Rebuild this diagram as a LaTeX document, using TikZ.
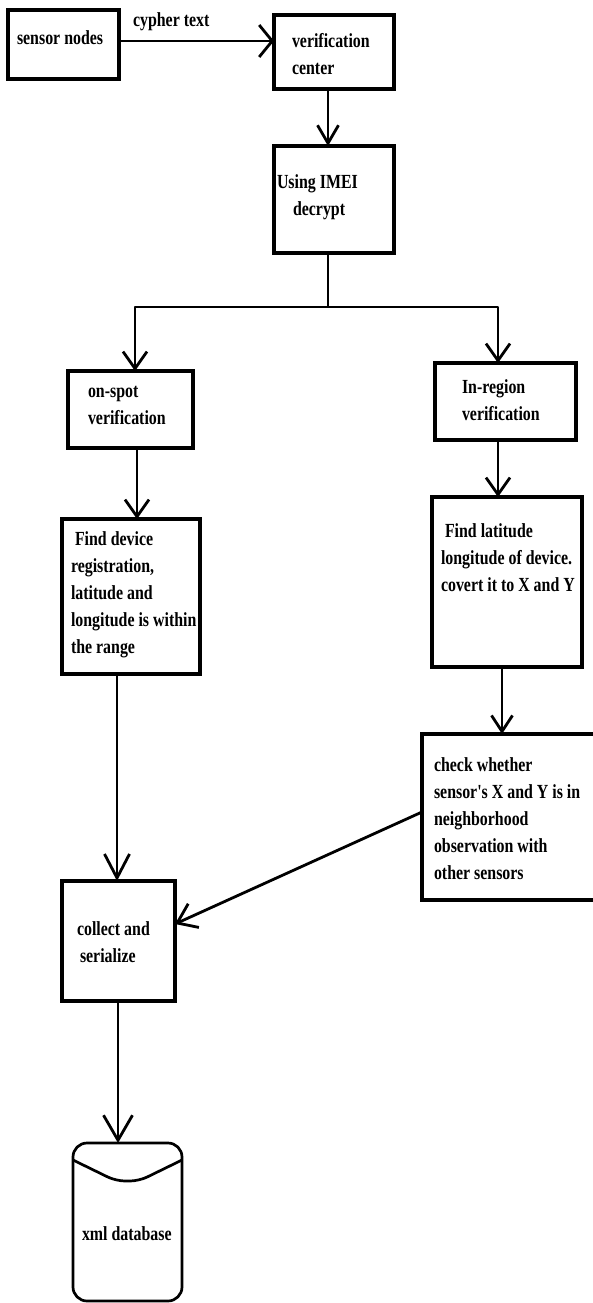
\documentclass[tikz,border=0pt]{standalone}
\usepackage{fontspec}
\newfontfamily\diagfont{Liberation Serif}[FakeStretch=0.795]
\usetikzlibrary{arrows.meta}
\newcommand{\boxlines}[1]{\parbox[t]{220pt}{\raggedright #1}}
\begin{document}
\begin{tikzpicture}[x=1pt,y=-1pt,
  box/.style={draw, line width=3.2pt, inner sep=0pt, outer sep=0pt},
  txt/.style={anchor=base west, inner sep=0pt, outer sep=0pt,
    font=\diagfont\bfseries\fontsize{20}{27}\selectfont},
  conn/.style={line width=2.8pt, line join=round},
  arr/.style={conn, -{Straight Barb[length=17pt,width=24pt]}},
  dbline/.style={line width=2.7pt}]
\useasboundingbox (0,0) rectangle (592,1303);

% boxes
\node[box, minimum width=111pt, minimum height=69pt] (sensor) at (63.5,44.5) {};
\node[box, minimum width=120pt, minimum height=74pt] (vc) at (334,52) {};
\node[box, minimum width=120pt, minimum height=107pt] (imei) at (334,199.5) {};
\node[box, minimum width=125pt, minimum height=77pt] (onspot) at (130.5,409.5) {};
\node[box, minimum width=141pt, minimum height=77pt] (inregion) at (505.5,401.5) {};
\node[box, minimum width=138pt, minimum height=155pt] (finddev) at (131,596.5) {};
\node[box, minimum width=150pt, minimum height=170pt] (findlat) at (507,582) {};
\node[box, minimum width=180pt, minimum height=166pt] (check) at (512,817) {};
\node[box, minimum width=113pt, minimum height=120pt] (collect) at (118.5,941) {};
\node[draw, dbline, rounded corners=14pt, inner sep=0pt, outer sep=0pt,
      minimum width=109pt, minimum height=158pt] (db) at (127.5,1222) {};
\draw[dbline, rounded corners=9pt] (db.west |- 0,1160) -- (116,1181) -- (139,1181) -- (db.east |- 0,1160);

% texts
\node[txt] (tsensor) at (17,45) {sensor nodes};
\node[txt] (tcypher) at (133,27) {cypher text};
\node[txt] (tvc) at (292,48) {\boxlines{verification\\center}};
\node[txt] (timei) at (277,188) {\boxlines{Using IMEI\\\hspace*{16pt}decrypt}};
\node[txt] (tonspot) at (88,397) {\boxlines{on-spot\\verification}};
\node[txt] (tinregion) at (462,393) {\boxlines{In-region\\verification}};
\node[txt] (tfinddev) at (71,545) {\boxlines{\hspace*{4pt}Find device\\registration,\\latitude and\\longitude is within\\the range}};
\node[txt] (tfindlat) at (441,537) {\boxlines{\hspace*{4pt}Find latitude\\longitude of device.\\covert it to X and Y}};
\node[txt] (tcheck) at (434,771) {\boxlines{check whether\\sensor's X and Y is in\\neighborhood\\observation with\\other sensors}};
\node[txt] (tcollect) at (77,935) {\boxlines{collect and\\\hspace*{3pt}serialize}};
\node[txt] (tdb) at (82,1240) {xml database};

% connectors
\draw[conn, -{Straight Barb[length=13pt,width=32pt]}] (sensor.east |- 0,41) -- (vc.west |- 0,41);
\draw[arr, -{Straight Barb[length=18pt,width=21pt]}] (vc.south -| 328,0) -- (imei.north -| 328,0);
\coordinate (jc) at (328,307);
\coordinate (jl) at (135,307);
\coordinate (jr) at (498,307);
\draw[conn] (imei.south -| jc) -- (jc);
\draw[arr] (jc) -- (jl) -- (onspot.north -| jl);
\draw[arr] (jc) -- (jr) -- (inregion.north -| jr);
\draw[arr] (onspot.south -| 137,0) -- (finddev.north -| 137,0);
\draw[arr] (inregion.south -| 498,0) -- (findlat.north -| 498,0);
\draw[arr, -{Straight Barb[length=24pt,width=25pt]}] (finddev.south -| 117,0) -- (collect.north -| 117,0);
\draw[arr, -{Straight Barb[length=16pt,width=21pt]}] (findlat.south -| 502,0) -- (check.north -| 502,0);
\draw[arr, -{Straight Barb[length=18pt,width=26pt]}] (check.west |- 0,812) -- (collect.east |- 0,924);
\draw[arr, -{Straight Barb[length=25pt,width=29pt]}] (collect.south -| 118,0) -- (db.north -| 118,0);
\end{tikzpicture}
\end{document}
